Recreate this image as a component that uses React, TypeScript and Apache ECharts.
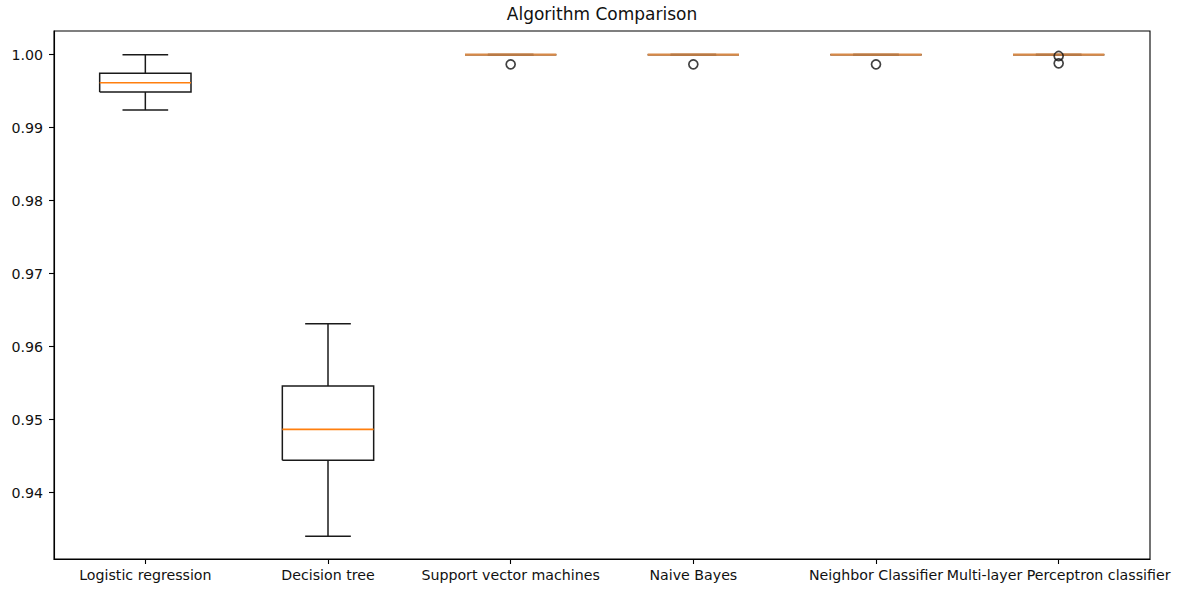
import React, { useEffect, useRef } from "react";
import * as echarts from "echarts";

const categories = [
  "Logistic regression",
  "Decision tree",
  "Support vector machines",
  "Naive Bayes",
  "Neighbor Classifier",
  "Multi-layer Perceptron classifier",
];
const lowWhisker = [0.99242, 0.93403, 1.0, 1.0, 1.0, 1.0];
const q1 = [0.99489, 0.94444, 1.0, 1.0, 1.0, 1.0];
const median = [0.99616, 0.94868, 1.0, 1.0, 1.0, 1.0];
const q3 = [0.99745, 0.95462, 1.0, 1.0, 1.0, 1.0];
const highWhisker = [1.0, 0.96315, 1.0, 1.0, 1.0, 1.0];
const outlierIndex = [2, 3, 4, 5, 5];
const outlierValue = [0.99868, 0.99868, 0.99868, 0.99982, 0.99882];
const yTicks = [0.94, 0.95, 0.96, 0.97, 0.98, 0.99, 1.0];
const yMin = 0.930918;
const yMax = 1.003247;

const FONT = "DejaVu Sans";

export default function App() {
  const ref = useRef<HTMLDivElement>(null);
  useEffect(() => {
    document.body.style.margin = "0";
    const chart = echarts.init(ref.current!, null, { renderer: "svg" });
    const boxData = categories.map((_, i) => [
      i,
      lowWhisker[i],
      q1[i],
      median[i],
      q3[i],
      highWhisker[i],
    ]);
    const outlierData = outlierIndex.map((idx, i) => [idx, outlierValue[i]]);
    const lw = 1.5;
    chart.setOption({
      animation: false,
      graphic: [
        {
          type: "text",
          x: 602,
          y: 14,
          style: {
            text: "Algorithm Comparison",
            align: "center",
            verticalAlign: "middle",
            fontFamily: FONT,
            fontSize: 17,
            fill: "#111",
          },
        },
      ],
      grid: {
        left: 54,
        right: 31,
        top: 31,
        bottom: 32,
        show: true,
        borderColor: "#000",
        borderWidth: 1.1,
        backgroundColor: "transparent",
      },
      xAxis: {
        type: "category",
        data: categories,
        boundaryGap: true,
        axisLine: { show: true, lineStyle: { color: "#000", width: 1.1 } },
        axisTick: { show: true, alignWithLabel: true, length: 5, lineStyle: { color: "#000", width: 1.1 } },
        axisLabel: { interval: 0, margin: 9, fontFamily: FONT, fontSize: 14.2, color: "#111" },
        splitLine: { show: false },
      },
      yAxis: {
        type: "value",
        min: yMin,
        max: yMax,
        axisLine: { show: true, lineStyle: { color: "#000", width: 1.1 } },
        axisTick: { show: true, length: 5, customValues: yTicks, lineStyle: { color: "#000", width: 1.1 } },
        axisLabel: {
          customValues: yTicks,
          margin: 11,
          fontFamily: FONT,
          fontSize: 14.2,
          color: "#111",
          formatter: (v: number) => v.toFixed(2),
        },
        splitLine: { show: false },
      },
      series: [
        {
          type: "custom",
          data: boxData,
          encode: { x: 0, y: [1, 2, 3, 4, 5] },
          renderItem: (params: any, api: any) => {
            const idx = api.value(0);
            const lo = api.coord([idx, api.value(1)]);
            const b1 = api.coord([idx, api.value(2)]);
            const md = api.coord([idx, api.value(3)]);
            const b3 = api.coord([idx, api.value(4)]);
            const hi = api.coord([idx, api.value(5)]);
            const band = api.size([1, 0])[0];
            const bw = band * 0.5;
            const cw = bw * 0.5;
            const x = lo[0];
            const flat = Math.abs(b1[1] - b3[1]) < 0.5;
            const black = { stroke: "#1a1a1a", lineWidth: lw, fill: null };
            const children: any[] = [];
            children.push({
              type: "polyline",
              shape: {
                points: [
                  [x - bw / 2, b1[1]],
                  [x + bw / 2, b1[1]],
                  [x + bw / 2, b3[1]],
                  [x - bw / 2, b3[1]],
                  [x - bw / 2, b1[1]],
                ],
              },
              style: { ...black },
            });
            children.push({ type: "line", shape: { x1: x, y1: b1[1], x2: x, y2: lo[1] }, style: { ...black } });
            children.push({ type: "line", shape: { x1: x, y1: b3[1], x2: x, y2: hi[1] }, style: { ...black } });
            children.push({ type: "line", shape: { x1: x - cw / 2, y1: lo[1], x2: x + cw / 2, y2: lo[1] }, style: { ...black } });
            children.push({ type: "line", shape: { x1: x - cw / 2, y1: hi[1], x2: x + cw / 2, y2: hi[1] }, style: { ...black } });
            if (flat) {
              children.push({
                type: "line",
                shape: { x1: x - bw / 2, y1: md[1], x2: x + bw / 2, y2: md[1] },
                style: { stroke: "#d88a48", lineWidth: 2.2 },
              });
              children.push({
                type: "line",
                shape: { x1: x - cw / 2, y1: md[1], x2: x + cw / 2, y2: md[1] },
                style: { stroke: "#b97a46", lineWidth: 2.2 },
              });
            } else {
              children.push({
                type: "line",
                shape: { x1: x - bw / 2, y1: md[1], x2: x + bw / 2, y2: md[1] },
                style: { stroke: "#ff7f0e", lineWidth: 1.7 },
              });
            }
            return { type: "group", children };
          },
          z: 2,
        },
        {
          type: "scatter",
          data: outlierData,
          symbol: "circle",
          symbolSize: 9,
          itemStyle: { color: "rgba(255,255,255,0)", borderColor: "#111", borderWidth: 1.7 },
          z: 3,
        },
      ],
    });
    return () => chart.dispose();
  }, []);
  return <div ref={ref} style={{ width: 1181, height: 591 }} />;
}
